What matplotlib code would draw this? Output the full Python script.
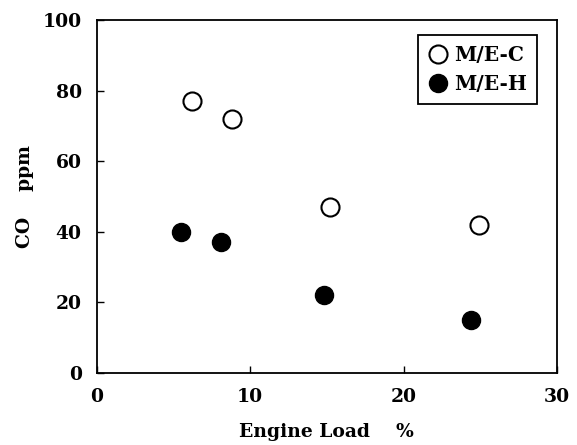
import matplotlib
matplotlib.use("Agg")
import matplotlib.pyplot as plt

# M/E-C (open) et M/E-H (plein)
load_c = [6.2, 8.8, 15.2, 24.9]
co_c = [77, 72, 47, 42]
load_h = [5.5, 8.1, 14.8, 24.4]
co_h = [40, 37, 22, 15]

plt.rcParams['font.family'] = ['DejaVu Serif']
plt.rcParams['font.weight'] = 'bold'
plt.rcParams['axes.labelweight'] = 'bold'

fig = plt.figure(figsize=(5.77, 4.45), dpi=100)
ax = fig.add_axes([0.168, 0.162, 0.797, 0.793])

ax.plot(load_c, co_c, 'o', ms=13, mfc='white', mec='black', mew=1.5, label='M/E-C')
ax.plot(load_h, co_h, 'o', ms=13, mfc='black', mec='black', label='M/E-H')

ax.set_xlim(0, 30)
ax.set_ylim(0, 100)
ax.set_xticks([0, 10, 20, 30])
ax.set_yticks([0, 20, 40, 60, 80, 100])
ax.tick_params(direction='in', length=5, width=1, labelsize=13.5, pad=11)
for s in ax.spines.values():
    s.set_linewidth(1.3)

ax.set_xlabel("Engine Load    %", fontsize=13.5, labelpad=12)
ax.set_ylabel("CO    ppm", fontsize=13.5, labelpad=6)

leg = ax.legend(loc='upper right', bbox_to_anchor=(0.957, 0.958), fontsize=14.5,
                fancybox=False, framealpha=1, edgecolor='black',
                handletextpad=0.3, borderpad=0.5, handlelength=1.0,
                labelspacing=0.45, borderaxespad=0)
leg.get_frame().set_linewidth(1.3)

fig.savefig("out.png", dpi=100)
